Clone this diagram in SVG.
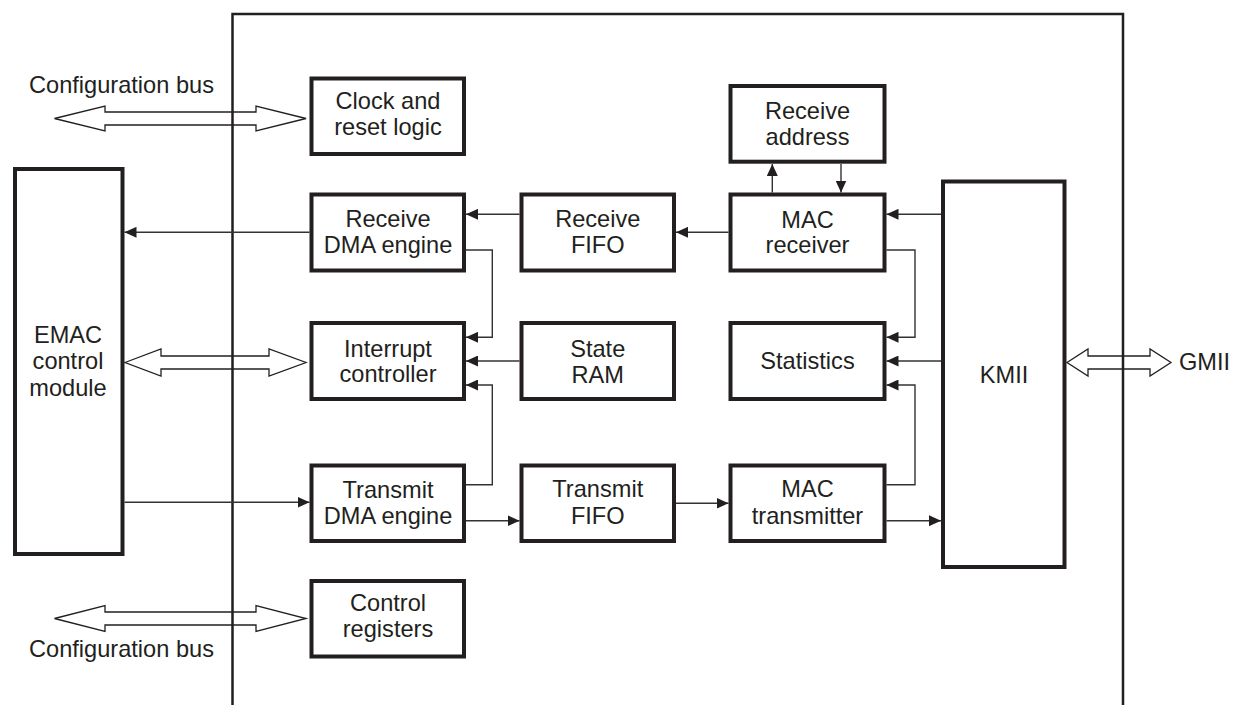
<svg xmlns="http://www.w3.org/2000/svg" width="1237" height="705" viewBox="0 0 1237 705">
<style>
.box{fill:#fff;stroke:#231f20;stroke-width:4}
.t{font-family:"Liberation Sans",Arial,sans-serif;font-size:23.6px;fill:#231f20;text-anchor:middle}
.tl{font-family:"Liberation Sans",Arial,sans-serif;font-size:23.6px;fill:#231f20}
.c{fill:none;stroke:#333;stroke-width:1.4}
.bus{fill:#fff;stroke:#231f20;stroke-width:1.3;stroke-linejoin:miter}
</style>
<defs>
<marker id="ah" markerUnits="userSpaceOnUse" markerWidth="12" markerHeight="11" refX="12" refY="5.5" orient="auto">
<path d="M0,0 L12,5.5 L0,11 z" fill="#231f20"/>
</marker>
</defs>
<rect width="1237" height="705" fill="#fff"/>
<g id="buses">
<polygon class="bus" points="54.5,118.5 105,106 105,112 256,112 256,106 306,118.5 256,131 256,125 105,125 105,131"/>
<polygon class="bus" points="54.5,618.5 105,605.5 105,612 256,612 256,605.5 306,618.5 256,631.5 256,625 105,625 105,631.5"/>
<polygon class="bus" points="125,362.5 161,349 161,356 269,356 269,349 306,362.5 269,376 269,369 161,369 161,376"/>
<polygon class="bus" points="1067,362.5 1088,349 1088,356 1150,356 1150,349 1171,362.5 1150,376 1150,369 1088,369 1088,376"/>
</g>
<path id="frame" d="M232.5,705 V14 H1123 V705" fill="none" stroke="#231f20" stroke-width="2.5"/>
<text class="tl" x="29" y="93">Configuration bus</text>
<text class="tl" x="29" y="657">Configuration bus</text>
<text class="tl" x="1179" y="370">GMII</text>
<g id="connectors">
<line class="c" x1="309.5" y1="232.3" x2="124.5" y2="232.3" marker-end="url(#ah)"/>
<line class="c" x1="519.5" y1="214.3" x2="466" y2="214.3" marker-end="url(#ah)"/>
<line class="c" x1="728.5" y1="232.3" x2="676" y2="232.3" marker-end="url(#ah)"/>
<line class="c" x1="772.3" y1="192.5" x2="772.3" y2="164" marker-end="url(#ah)"/>
<line class="c" x1="841" y1="164" x2="841" y2="192.5" marker-end="url(#ah)"/>
<line class="c" x1="941" y1="214.3" x2="886.5" y2="214.3" marker-end="url(#ah)"/>
<polyline class="c" points="886.5,250 915,250 915,337.3 886.5,337.3" marker-end="url(#ah)"/>
<line class="c" x1="941" y1="361" x2="886.5" y2="361" marker-end="url(#ah)"/>
<polyline class="c" points="886.5,484.7 915,484.7 915,385 886.5,385" marker-end="url(#ah)"/>
<line class="c" x1="886.5" y1="520.7" x2="941" y2="520.7" marker-end="url(#ah)"/>
<line class="c" x1="676" y1="503.3" x2="728.5" y2="503.3" marker-end="url(#ah)"/>
<line class="c" x1="466" y1="520.7" x2="519.5" y2="520.7" marker-end="url(#ah)"/>
<polyline class="c" points="466,484.7 492.3,484.7 492.3,385 466,385" marker-end="url(#ah)"/>
<polyline class="c" points="466,250 492.3,250 492.3,337.3 466,337.3" marker-end="url(#ah)"/>
<line class="c" x1="519.5" y1="361" x2="466" y2="361" marker-end="url(#ah)"/>
<line class="c" x1="124.5" y1="502.3" x2="309.5" y2="502.3" marker-end="url(#ah)"/>
</g>
<g id="emac"><rect class="box" x="15" y="169" width="107.5" height="385"/>
<text class="t" x="68" y="342.7">EMAC</text><text class="t" x="68" y="369">control</text><text class="t" x="68" y="395.7">module</text></g>
<g id="clock"><rect class="box" x="311.5" y="78.5" width="152.5" height="75.5"/>
<text class="t" x="388" y="109.3">Clock and</text><text class="t" x="388" y="135">reset logic</text></g>
<g id="rxdma"><rect class="box" x="311.5" y="194.5" width="152.5" height="76"/>
<text class="t" x="388" y="226.5">Receive</text><text class="t" x="388" y="252.5">DMA engine</text></g>
<g id="intc"><rect class="box" x="311.5" y="323" width="152.5" height="76"/>
<text class="t" x="388" y="356.7">Interrupt</text><text class="t" x="388" y="382.3">controller</text></g>
<g id="txdma"><rect class="box" x="311.5" y="465.5" width="152.5" height="75.5"/>
<text class="t" x="388" y="497.5">Transmit</text><text class="t" x="388" y="524">DMA engine</text></g>
<g id="ctrlreg"><rect class="box" x="311.5" y="581" width="152.5" height="75.5"/>
<text class="t" x="388" y="611">Control</text><text class="t" x="388" y="637">registers</text></g>
<g id="rxfifo"><rect class="box" x="521.5" y="194.5" width="152.5" height="76"/>
<text class="t" x="597.75" y="226.7">Receive</text><text class="t" x="597.75" y="253.3">FIFO</text></g>
<g id="stateram"><rect class="box" x="521.5" y="323" width="152.5" height="76"/>
<text class="t" x="597.75" y="356.7">State</text><text class="t" x="597.75" y="383.3">RAM</text></g>
<g id="txfifo"><rect class="box" x="521.5" y="465.5" width="152.5" height="75.5"/>
<text class="t" x="597.75" y="497.3">Transmit</text><text class="t" x="597.75" y="524">FIFO</text></g>
<g id="rxaddr"><rect class="box" x="730.5" y="86" width="154" height="75.7"/>
<text class="t" x="807.5" y="119.3">Receive</text><text class="t" x="807.5" y="145">address</text></g>
<g id="macrx"><rect class="box" x="730.5" y="194.5" width="154" height="76"/>
<text class="t" x="807.5" y="227.7">MAC</text><text class="t" x="807.5" y="253.3">receiver</text></g>
<g id="stats"><rect class="box" x="730.5" y="323" width="154" height="76"/>
<text class="t" x="807.5" y="369">Statistics</text></g>
<g id="mactx"><rect class="box" x="730.5" y="465.5" width="154" height="75.5"/>
<text class="t" x="807.5" y="497.3">MAC</text><text class="t" x="807.5" y="524">transmitter</text></g>
<g id="kmii"><rect class="box" x="943" y="181.5" width="121.5" height="385.5"/>
<text class="t" x="1004" y="382.5">KMII</text></g>
</svg>
